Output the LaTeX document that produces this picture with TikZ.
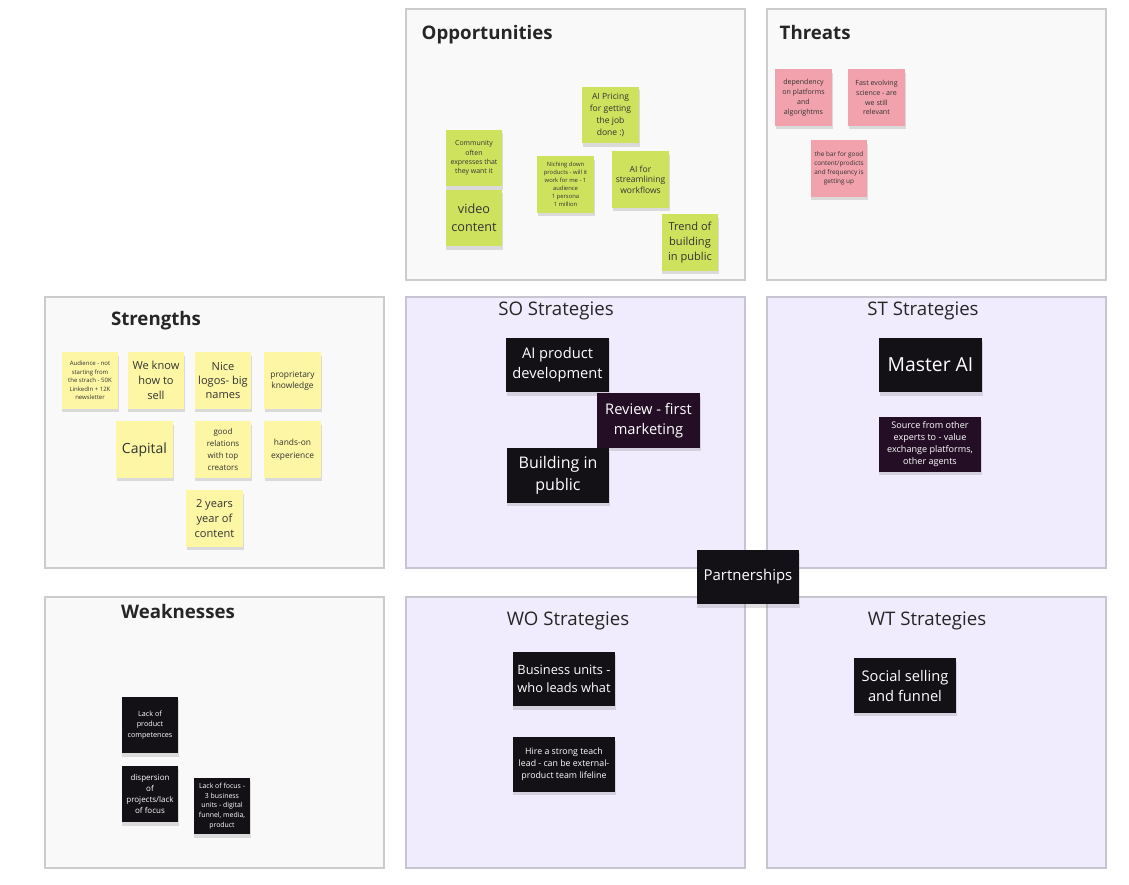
\documentclass[tikz,border=0pt]{standalone}
\usepackage{fontspec}
\setmainfont{Open Sans}
\usetikzlibrary{shadows}
\definecolor{framebg}{HTML}{F9F9F9}
\definecolor{frameline}{HTML}{CCCCCC}
\definecolor{stratbg}{HTML}{F1ECFD}
\definecolor{stratline}{HTML}{C8C5D2}
\definecolor{oppgreen}{HTML}{CFE25E}
\definecolor{threatpink}{HTML}{F1A2AC}
\definecolor{strengthyellow}{HTML}{FDF6A4}
\definecolor{stratdark}{HTML}{141116}
\definecolor{notetext}{HTML}{333333}
\newcommand{\fsz}[2]{\fontsize{#1}{#2}\selectfont}

\begin{document}
\begin{tikzpicture}[x=0.75pt,y=-0.75pt,
  frame/.style={draw=frameline,fill=framebg,line width=0.8pt},
  stratframe/.style={draw=stratline,fill=stratbg,line width=0.8pt},
  title/.style={font=\bfseries\fsz{14}{16},text=black!85},
  strattitle/.style={font=\fsz{14}{16},text=black!85},
  note/.style={inner sep=1.5pt,align=center,text=notetext,
    drop shadow={opacity=0.25,shadow xshift=0.6pt,shadow yshift=-2.6pt}},
  sq/.style={minimum width=42.5pt,minimum height=42.5pt},
  wide/.style={minimum width=77pt,minimum height=41pt},
  gnote/.style={note,sq,fill=oppgreen},
  pnote/.style={note,sq,fill=threatpink},
  ynote/.style={note,sq,fill=strengthyellow},
  dnote/.style={note,fill=stratdark,text=white}]

\useasboundingbox (0,0) rectangle (1129,885);
\fill[white] (0,0) rectangle (1129,885);

% frames
\draw[frame] (406,9) rectangle (745,280);
\draw[frame] (767,9) rectangle (1106,280);
\draw[frame] (45,297) rectangle (384,568);
\draw[stratframe] (406,297) rectangle (745,568);
\draw[stratframe] (767,297) rectangle (1106,568);
\draw[frame] (45,597) rectangle (384,868);
\draw[stratframe] (406,597) rectangle (745,868);
\draw[stratframe] (767,597) rectangle (1106,868);

\node[title,anchor=base west] (opp) at (417,40) {Opportunities};
\node[title,anchor=base west] (thr) at (775,40) {Threats};
\node[title] (str) at (156,321) {Strengths};
\node[title] (weak) at (178,611) {Weaknesses};
\node[strattitle] (so) at (556,311) {SO Strategies};
\node[strattitle] (st) at (923,311) {ST Strategies};
\node[strattitle] (wo) at (568,621) {WO Strategies};
\node[strattitle] (wt) at (927,621) {WT Strategies};

% opportunities
\node[gnote,font=\fsz{5.2}{7}] (comm) at (474,158) {Community\\often\\expresses that\\they want it};
\node[gnote,font=\fsz{9.5}{13.5}] (video) at (474,218) {video\\content};
\node[gnote,font=\fsz{4.4}{6}] (niche) at (565.5,184.5) {Niching down\\products - will it\\work for me - 1\\audience\\1 persona\\1 million};
\node[gnote,font=\fsz{6.4}{9}] (price) at (610.5,115) {AI Pricing\\for getting\\the job\\done :)};
\node[gnote,font=\fsz{6.4}{8}] (stream) at (640.5,179.5) {AI for\\streamlining\\workflows};
\node[gnote,font=\fsz{8.3}{11.2}] (trend) at (690,242.5) {Trend of\\building\\in public};

% threats
\node[pnote,font=\fsz{5.3}{7.4}] (dep) at (803.5,97.5) {dependency\\on platforms\\and\\algorightms};
\node[pnote,font=\fsz{5.3}{7.4}] (fast) at (876.5,97.5) {Fast evolving\\science - are\\we still\\relevant};
\node[pnote,font=\fsz{4.8}{6.7}] (bar) at (839,168.5) {the bar for good\\content/prodicts\\and frequency is\\getting up};

% strengths
\node[ynote,font=\fsz{4.5}{6.3}] (aud) at (90,380.5) {Audience - not\\starting from\\the strach - 50K\\LinkedIn + 12K\\newsletter};
\node[ynote,font=\fsz{8.3}{11.2}] (sell) at (156,380.5) {We know\\how to\\sell};
\node[ynote,font=\fsz{8.3}{10.8}] (logos) at (223,380.5) {Nice\\logos- big\\names};
\node[ynote,font=\fsz{6.3}{8.3}] (prop) at (292.5,380.5) {proprietary\\knowledge};
\node[ynote,font=\fsz{10.5}{13}] (cap) at (144.5,449.5) {Capital};
\node[ynote,font=\fsz{6}{8.8}] (rel) at (223,449.5) {good\\relations\\with top\\creators};
\node[ynote,font=\fsz{6.3}{10}] (hands) at (292.5,449.5) {hands-on\\experience};
\node[ynote,font=\fsz{8.3}{11}] (years) at (214.5,518.5) {2 years\\year of\\content};

% weaknesses
\node[dnote,sq,font=\fsz{5.4}{7.6}] (prodcomp) at (150,725) {Lack of\\product\\competences};
\node[dnote,sq,font=\fsz{6}{8.2}] (disp) at (150,794) {dispersion\\of\\projects/lack\\of focus};
\node[dnote,sq,font=\fsz{5.2}{7.2}] (focus) at (222,806) {Lack of focus -\\3 business\\units - digital\\funnel, media,\\product};

% strategies
\node[dnote,wide,font=\fsz{11}{15}] (aidev) at (557.5,365) {AI product\\development};
\node[dnote,wide,fill=stratdark!85!violet,font=\fsz{11}{15}] (review) at (648.5,420.5) {Review - first\\marketing};
\node[dnote,wide,font=\fsz{12}{17}] (build) at (558,475.5) {Building in\\public};
\node[dnote,wide,font=\fsz{14.5}{17}] (master) at (930.5,365) {Master AI};
\node[dnote,wide,fill=stratdark!85!violet,font=\fsz{6.8}{9}] (source) at (930,444.5) {Source from other\\experts to - value\\exchange platforms,\\other agents};
\node[dnote,wide,font=\fsz{11.2}{13}] (partner) at (748,577) {Partnerships};
\node[dnote,wide,font=\fsz{9.6}{13}] (units) at (564,679) {Business units -\\who leads what};
\node[dnote,wide,font=\fsz{6.6}{9}] (hire) at (564,764.5) {Hire a strong teach\\lead - can be external-\\product team lifeline};
\node[dnote,wide,font=\fsz{11}{15}] (social) at (905,685.5) {Social selling\\and funnel};
\end{tikzpicture}
\end{document}
